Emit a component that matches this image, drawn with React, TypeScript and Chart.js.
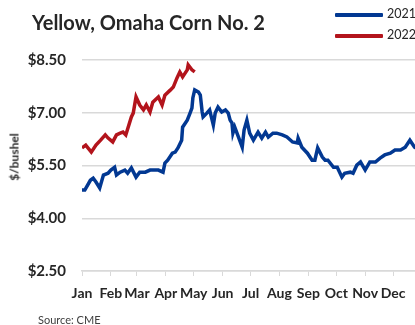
import React, { useEffect, useRef } from "react";
import { Chart, registerables } from "chart.js";

Chart.register(...registerables);

const titleText = "Yellow, Omaha Corn No. 2";
const yAxisTitle = "$/bushel";
const sourceText = "Source:  CME";

const monthStarts = [0, 31, 59, 90, 120, 151, 181, 212, 243, 273, 304, 334];
const monthLabels = ["Jan", "Feb", "Mar", "Apr", "May", "Jun", "Jul", "Aug", "Sep", "Oct", "Nov", "Dec"];

const yMin = 2.5;
const yMax = 8.5;
const yStep = 1.5;

const series2021Label = "2021";
const days2021 = [
  0, 3, 9, 12, 15, 19, 23, 28, 31, 35, 37, 41, 46, 49, 53, 58, 62, 68, 73, 76, 82, 87, 89, 92, 97, 100,
  103, 107, 108, 113, 116, 118, 119, 121, 125, 127, 129, 130, 134, 137, 141, 143, 146, 150, 154, 157,
  159, 161, 162, 164, 168, 172, 174, 177, 180, 184, 189, 193, 197, 200, 205, 209, 215, 220, 226, 231,
  232, 236, 242, 247, 250, 253, 258, 261, 264, 270, 274, 279, 282, 288, 291, 295, 299, 304, 309, 315,
  320, 325, 331, 336, 342, 347, 352, 357, 362,
];
const values2021 = [
  4.8, 4.8, 5.08, 5.14, 5.03, 4.86, 5.23, 5.28, 5.37, 5.45, 5.23, 5.31, 5.37, 5.28, 5.43, 5.17, 5.31,
  5.31, 5.37, 5.37, 5.37, 5.31, 5.57, 5.65, 5.85, 5.88, 6.0, 6.22, 6.59, 6.79, 6.99, 7.13, 7.42, 7.65,
  7.59, 7.5, 7.02, 6.88, 6.99, 7.08, 6.65, 6.99, 7.16, 7.02, 7.08, 6.99, 6.79, 6.71, 6.42, 6.59, 6.31,
  6.02, 6.51, 6.79, 6.42, 6.22, 6.45, 6.28, 6.45, 6.31, 6.42, 6.42, 6.37, 6.31, 6.17, 6.14, 6.28, 6.02,
  5.85, 5.65, 5.65, 6.0, 5.74, 5.65, 5.65, 5.45, 5.45, 5.17, 5.28, 5.31, 5.28, 5.51, 5.6, 5.37, 5.6, 5.6,
  5.71, 5.8, 5.85, 5.94, 5.94, 6.02, 6.22, 6.02, 5.95,
];

const series2022Label = "2022";
const days2022 = [
  0, 4, 10, 15, 20, 25, 28, 33, 37, 41, 44, 47, 53, 55, 58, 62, 66, 69, 73, 76, 82, 86, 89, 95, 98, 102,
  105, 108, 113, 114, 118, 121,
];
const values2022 = [
  6.0, 6.08, 5.88, 6.08, 6.22, 6.37, 6.28, 6.17, 6.37, 6.42, 6.45, 6.37, 6.88, 6.99, 7.45, 7.22, 7.08,
  7.22, 7.02, 7.3, 7.45, 7.22, 7.5, 7.65, 7.73, 7.99, 8.16, 8.02, 8.22, 8.36, 8.22, 8.16,
];

const blue = "#023892";
const red = "#B3141C";
const gridColor = "#d9d9d9";
const textColor = "#262626";
const font = "Lato, 'Open Sans', sans-serif";

export default function App() {
  const canvasRef = useRef<HTMLCanvasElement | null>(null);

  useEffect(() => {
    const canvas = canvasRef.current;
    if (!canvas) return;
    const chart = new Chart(canvas, {
      type: "line",
      data: {
        datasets: [
          {
            label: series2021Label,
            data: days2021.map((d, i) => ({ x: d, y: values2021[i] })),
            borderColor: blue,
            borderWidth: 3.5,
            pointRadius: 0,
            tension: 0,
          },
          {
            label: series2022Label,
            data: days2022.map((d, i) => ({ x: d, y: values2022[i] })),
            borderColor: red,
            borderWidth: 3.5,
            pointRadius: 0,
            tension: 0,
          },
        ],
      },
      options: {
        animation: false,
        responsive: false,
        maintainAspectRatio: false,
        layout: { padding: { top: 60, right: 4, left: 0, bottom: 0 } },
        plugins: { legend: { display: false }, tooltip: { enabled: false }, title: { display: false } },
        scales: {
          x: {
            type: "linear",
            min: 0,
            max: 365,
            afterBuildTicks: (scale: any) => {
              scale.ticks = monthStarts.map((v) => ({ value: v }));
            },
            afterFit: (scale: any) => {
              scale.height = 54;
            },
            ticks: {
              autoSkip: false,
              maxRotation: 0,
              minRotation: 0,
              padding: 9,
              color: textColor,
              font: { family: font, size: 14, weight: "bold" },
              callback: (_v: any, i: number) => monthLabels[i],
            },
            grid: {
              display: true,
              drawOnChartArea: false,
              drawTicks: true,
              tickLength: 5,
              color: gridColor,
              lineWidth: 1,
            },
            border: { display: true, color: gridColor, width: 1.5 },
          },
          y: {
            min: yMin,
            max: yMax,
            afterFit: (scale: any) => {
              scale.width = 82;
            },
            ticks: {
              stepSize: yStep,
              padding: 16,
              color: textColor,
              font: { family: font, size: 15, weight: "bold" },
              callback: (v: any) => "$" + Number(v).toFixed(2),
            },
            grid: { color: gridColor, lineWidth: 1.5, drawTicks: false },
            border: { display: false },
          },
        },
      },
    });
    return () => chart.destroy();
  }, []);

  return (
    <div
      style={{
        position: "absolute",
        left: 0,
        top: 0,
        width: 415,
        height: 325,
        overflow: "hidden",
        background: "#fff",
        fontFamily: font,
      }}
    >
      <canvas ref={canvasRef} width={426} height={325} style={{ position: "absolute", left: 0, top: 0 }} />
      <div
        style={{
          position: "absolute",
          left: 32,
          top: 10,
          fontSize: 20,
          fontWeight: "bold",
          color: textColor,
          whiteSpace: "nowrap",
          lineHeight: "normal",
        }}
      >
        {titleText}
      </div>
      {[series2021Label, series2022Label].map((lab, i) => (
        <div key={lab} style={{ position: "absolute", left: 335, top: i === 0 ? 6 : 27, height: 16, whiteSpace: "nowrap" }}>
          <div
            style={{
              position: "absolute",
              left: 0,
              top: 7,
              width: 48,
              height: 3.5,
              background: i === 0 ? blue : red,
              borderRadius: 1,
            }}
          />
          <div style={{ position: "absolute", left: 52, top: 0, fontSize: 12.5, color: textColor, lineHeight: "16px" }}>
            {lab}
          </div>
        </div>
      ))}
      <div
        style={{
          position: "absolute",
          left: 14,
          top: 157,
          transform: "translate(-50%, -50%) rotate(-90deg)",
          fontSize: 12,
          fontWeight: "bold",
          color: textColor,
          whiteSpace: "nowrap",
        }}
      >
        {yAxisTitle}
      </div>
      <div
        style={{
          position: "absolute",
          left: 38,
          top: 313,
          fontSize: 11,
          color: "#404040",
          whiteSpace: "nowrap",
          lineHeight: "normal",
        }}
      >
        {sourceText}
      </div>
    </div>
  );
}
